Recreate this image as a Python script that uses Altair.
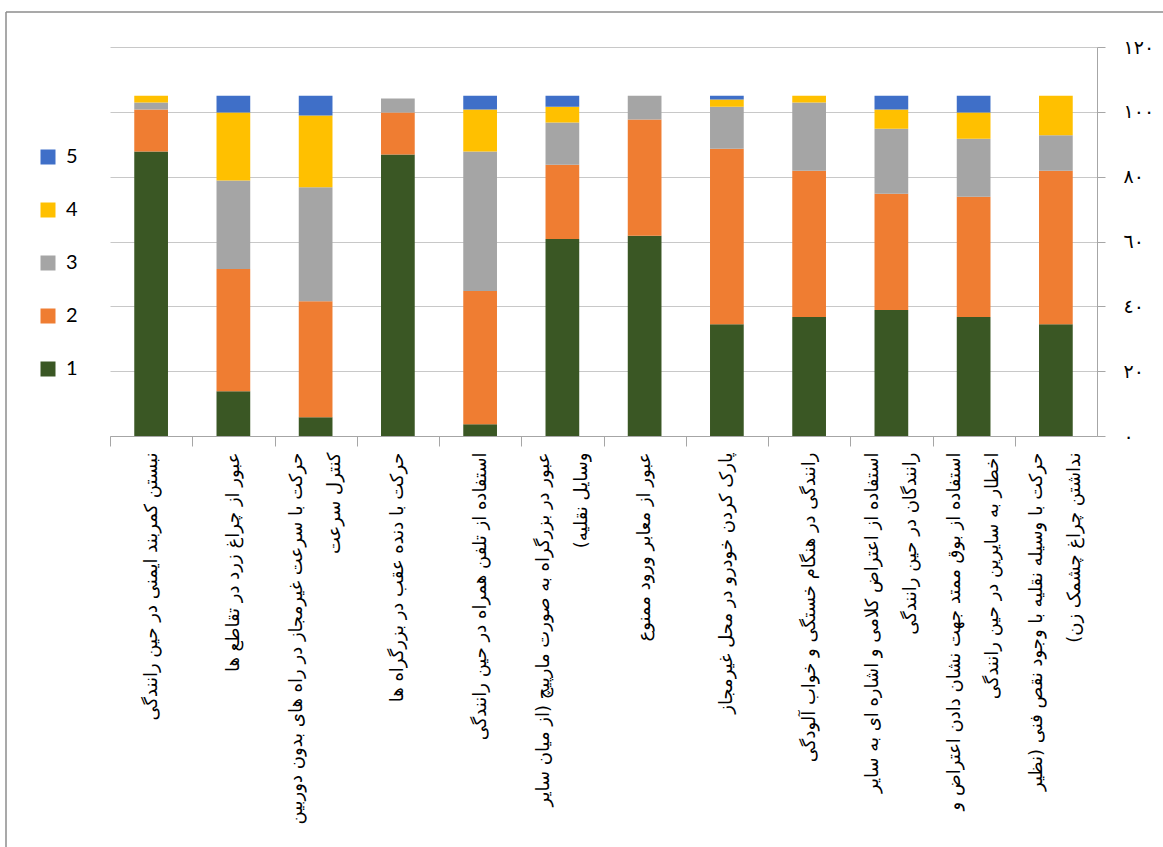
import altair as alt
import pandas as pd

categories = [
    "نبستن کمربند ایمنی در حین رانندگی",
    "عبور از چراغ زرد در تقاطع ها",
    "حرکت با سرعت غیرمجاز در راه های بدون دوربین|کنترل سرعت",
    "حرکت با دنده عقب در بزرگراه ها",
    "استفاده از تلفن همراه در حین رانندگی",
    "عبور در بزرگراه به صورت مارپیچ (از میان سایر|وسایل نقلیه)\u200f",
    "عبور از معابر ورود ممنوع",
    "پارک کردن خودرو در محل غیرمجاز",
    "رانندگی در هنگام خستگی و خواب آلودگی",
    "استفاده از اعتراض کلامی و اشاره ای به سایر|رانندگان در حین رانندگی",
    "استفاده از بوق ممتد جهت نشان دادن اعتراض و|اخطار به سایرین در حین رانندگی",
    "حرکت با وسیله نقلیه با وجود نقص فنی (نظیر|نداشتن چراغ چشمک زن)\u200f",
]

levels = ["1", "2", "3", "4", "5"]
level1 = [87.8, 13.8, 5.8, 86.8, 3.6, 60.8, 61.8, 34.5, 36.7, 38.9, 36.7, 34.5]
level2 = [12.9, 37.7, 35.8, 13.0, 41.1, 22.9, 35.8, 54.1, 45.1, 35.8, 37.1, 47.3]
level3 = [2.2, 27.3, 35.1, 4.3, 43.1, 13.0, 7.4, 13.0, 21.1, 20.1, 17.9, 11.0]
level4 = [2.1, 21.0, 22.2, 0.0, 12.9, 4.9, 0.0, 2.2, 2.1, 5.9, 8.1, 12.2]
level5 = [0.0, 5.2, 6.1, 0.0, 4.3, 3.4, 0.0, 1.2, 0.0, 4.3, 5.2, 0.0]

legend_order = ["5", "4", "3", "2", "1"]
legend_colors = ["#3F6FC8", "#FFC000", "#A5A5A5", "#EF7D32", "#3A5724"]

y_ticks = [0, 20, 40, 60, 80, 100, 120]
y_tick_labels = ["٠", "٢٠", "٤٠", "٦٠", "٨٠", "١٠٠", "١٢٠"]

rows = []
series = [level1, level2, level3, level4, level5]
for i, cat in enumerate(categories):
    for lv, s in zip(levels, series):
        rows.append({"cat": cat, "level": lv, "rank": int(lv), "value": s[i]})
df = pd.DataFrame(rows)

y_label_expr = " : ".join(
    f"datum.value == {v} ? '{l}'" for v, l in zip(y_ticks, y_tick_labels)
) + " : ''"

W = 987
H = 389
half_step = W / len(categories) / 2

bars = alt.Chart(df).mark_bar().encode(
    x=alt.X(
        "cat:N",
        sort=categories,
        scale=alt.Scale(paddingInner=0.59, paddingOuter=0.295),
        axis=alt.Axis(
            title=None,
            labelAngle=270,
            labelExpr="split(datum.label, '|')",
            labelFont="DejaVu Sans",
            labelFontSize=18,
            labelLineHeight=38,
            labelLimit=800,
            labelColor="#000000",
            tickOffset=-half_step,
            labelOffset={
                "condition": {"test": "indexof(datum.value, '|') >= 0", "value": half_step - 19},
                "value": half_step,
            },
            tickSize=10,
            tickColor="#A6A6A6",
            domainColor="#A6A6A6",
            labelPadding=6,
            grid=False,
        ),
    ),
    y=alt.Y(
        "value:Q",
        stack="zero",
        scale=alt.Scale(domain=[0, 120], nice=False),
        axis=alt.Axis(
            orient="right",
            values=y_ticks,
            labelExpr=y_label_expr,
            title=None,
            grid=True,
            gridColor="#C8C8C8",
            domainColor="#A6A6A6",
            tickColor="#A6A6A6",
            tickSize=8,
            labelPadding=18,
            labelFont="DejaVu Sans",
            labelFontSize=19,
            labelColor="#000000",
        ),
    ),
    color=alt.Color(
        "level:N",
        scale=alt.Scale(domain=legend_order, range=legend_colors),
        legend=alt.Legend(
            title=None,
            orient="none",
            legendX=-72,
            legendY=100,
            symbolType="square",
            symbolSize=225,
            symbolStrokeWidth=0,
            labelFont="Lato",
            labelFontSize=20,
            labelColor="#000000",
            rowPadding=33,
            labelOffset=8,
        ),
    ),
    order=alt.Order("rank:Q", sort="ascending"),
)

frame = pd.DataFrame({"b": [0]})
top_border = alt.Chart(frame).mark_rule(color="#8C8C8C", strokeWidth=1.5).encode(
    x=alt.value(-104), x2=alt.value(1100), y=alt.value(-35)
)
left_border = alt.Chart(frame).mark_rule(color="#8C8C8C", strokeWidth=1.5).encode(
    x=alt.value(-104), y=alt.value(-35), y2=alt.value(900)
)

chart = alt.layer(bars, top_border, left_border).properties(
    width=W,
    height=H,
    autosize=alt.AutoSizeParams(type="none"),
    padding={"left": 110, "top": 47, "right": 66, "bottom": 411},
).configure_view(strokeWidth=0)

chart.save("out.html", embed_options={"renderer": "svg", "actions": False})
